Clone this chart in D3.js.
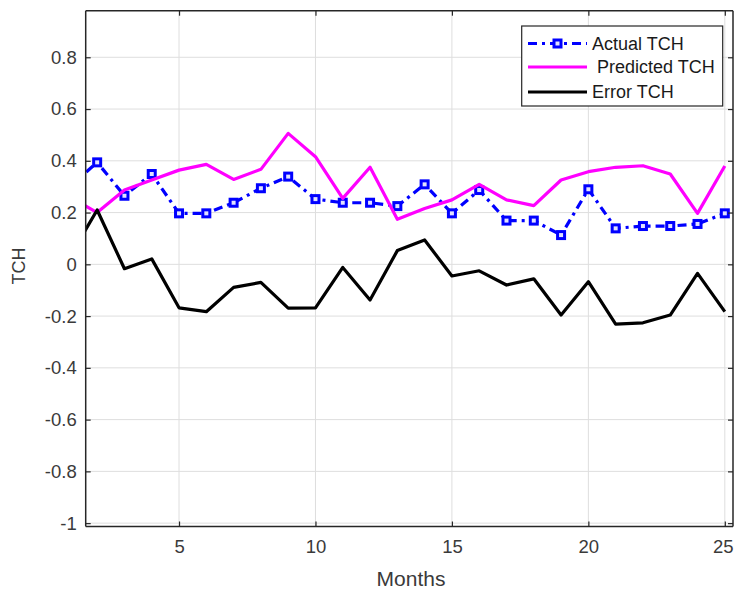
<!DOCTYPE html>
<html>
<head>
<meta charset="utf-8">
<script src="https://cdn.jsdelivr.net/npm/d3@7"></script>
<style>
  html, body { margin: 0; padding: 0; background: #fff; }
  svg { display: block; font-family: "Liberation Sans", Arial, Helvetica, sans-serif; }
</style>
</head>
<body>
<svg id="chart" width="734" height="593"></svg>
<script>
// Monthly TCH values
const months = [1, 2, 3, 4, 5, 6, 7, 8, 9, 10, 11, 12, 13, 14, 15, 16, 17, 18, 19, 20, 21, 22, 23, 24, 25];
const actualTCH = [0.30, 0.394, 0.265, 0.349, 0.197, 0.197, 0.238, 0.294, 0.339, 0.252, 0.238, 0.238, 0.225, 0.309, 0.197, 0.287, 0.169, 0.169, 0.113, 0.290, 0.139, 0.148, 0.148, 0.156, 0.197];
const predictedTCH = [0.26, 0.200, 0.287, 0.326, 0.364, 0.386, 0.328, 0.367, 0.506, 0.416, 0.255, 0.375, 0.174, 0.216, 0.249, 0.309, 0.249, 0.227, 0.326, 0.358, 0.375, 0.381, 0.349, 0.197, 0.380];
const errorTCH = [0.03, 0.210, -0.017, 0.021, -0.168, -0.183, -0.089, -0.070, -0.169, -0.168, -0.012, -0.138, 0.053, 0.094, -0.045, -0.025, -0.080, -0.056, -0.196, -0.067, -0.231, -0.226, -0.196, -0.035, -0.183];

const xTicks = [5, 10, 15, 20, 25];
const yTicks = [-1, -0.8, -0.6, -0.4, -0.2, 0, 0.2, 0.4, 0.6, 0.8];
const yTickLabels = ["-1", "-0.8", "-0.6", "-0.4", "-0.2", "0", "0.2", "0.4", "0.6", "0.8"];
const seriesNames = ["Actual TCH", "Predicted TCH", "Error TCH"];

const svg = d3.select("#chart");
const plot = { left: 85.7, right: 733, top: 10.7, bottom: 526.5 };

const x = d3.scaleLinear().domain([1.58, 25.3]).range([plot.left, plot.right]);
const y = d3.scaleLinear().domain([-1.013, 0.98]).range([plot.bottom, plot.top]);

const axisColor = "#262626";
const labelColor = "#3a3a3a";
const gridColor = "#dedede";

// grid
const grid = svg.append("g");
grid.selectAll("line.gx").data(xTicks).join("line")
  .attr("x1", d => x(d)).attr("x2", d => x(d))
  .attr("y1", plot.top).attr("y2", plot.bottom)
  .attr("stroke", gridColor).attr("stroke-width", 1);
grid.selectAll("line.gy").data(yTicks).join("line")
  .attr("x1", plot.left).attr("x2", plot.right)
  .attr("y1", d => y(d)).attr("y2", d => y(d))
  .attr("stroke", gridColor).attr("stroke-width", 1);

// clip region for the data
svg.append("defs").append("clipPath").attr("id", "clip")
  .append("rect")
  .attr("x", plot.left).attr("y", plot.top)
  .attr("width", plot.right - plot.left).attr("height", plot.bottom - plot.top);

const data = months.map((m, i) => ({ m, a: actualTCH[i], p: predictedTCH[i], e: errorTCH[i] }));
const lines = svg.append("g").attr("clip-path", "url(#clip)");

const line = key => d3.line().x(d => x(d.m)).y(d => y(d[key]));

lines.append("path").datum(data)
  .attr("d", line("a"))
  .attr("fill", "none").attr("stroke", "#0000ff")
  .attr("stroke-width", 3.2)
  .attr("stroke-dasharray", "9,5,3,5");

lines.selectAll("rect.mk").data(data).join("rect")
  .attr("x", d => x(d.m) - 3.5).attr("y", d => y(d.a) - 3.5)
  .attr("width", 7).attr("height", 7)
  .attr("fill", "#e2e2ff").attr("stroke", "#0000ff").attr("stroke-width", 3);

lines.append("path").datum(data)
  .attr("d", line("p"))
  .attr("fill", "none").attr("stroke", "#ff00ff")
  .attr("stroke-width", 3.2).attr("stroke-linejoin", "round");

lines.append("path").datum(data)
  .attr("d", line("e"))
  .attr("fill", "none").attr("stroke", "#000000")
  .attr("stroke-width", 3.2).attr("stroke-linejoin", "round");

// axes (box with inward ticks)
const axisBottom = d3.axisBottom(x).tickValues(xTicks).tickSize(-5).tickPadding(13).tickFormat(d3.format("d"));
const axisLeft = d3.axisLeft(y).tickValues(yTicks).tickSize(-5).tickPadding(9)
  .tickFormat((d, i) => yTickLabels[i]);
const axisTop = d3.axisTop(x).tickValues(xTicks).tickSize(-5).tickFormat("");
const axisRight = d3.axisRight(y).tickValues(yTicks).tickSize(-5).tickFormat("");

function style(g) {
  g.select(".domain").attr("stroke", axisColor).attr("stroke-width", 1.5);
  g.selectAll(".tick line").attr("stroke", axisColor).attr("stroke-width", 1.2);
  g.selectAll(".tick text").attr("fill", labelColor).attr("font-size", 18.5);
}

svg.append("g").attr("transform", `translate(0,${plot.bottom})`).call(axisBottom).call(style)
  .call(g => g.select(".domain").attr("d", `M${plot.left},0H${plot.right}`))
  // last label sits at the right edge of the canvas: keep it inside
  .call(g => g.selectAll(".tick").filter(d => d === 25).select("text")
    .attr("text-anchor", "end").attr("x", 733 - x(25)));
svg.append("g").attr("transform", `translate(${plot.left},0)`).call(axisLeft).call(style)
  .call(g => g.select(".domain").attr("d", `M0,${plot.top}V${plot.bottom}`));
svg.append("g").attr("transform", `translate(0,${plot.top})`).call(axisTop).call(style)
  .call(g => g.select(".domain").attr("d", `M${plot.left},0H${plot.right}`));
svg.append("g").attr("transform", `translate(${plot.right},0)`).call(axisRight).call(style)
  .call(g => g.select(".domain").attr("d", `M0,${plot.top}V${plot.bottom}`));

// axis titles
svg.append("text")
  .attr("x", 411).attr("y", 586)
  .attr("text-anchor", "middle").attr("fill", labelColor)
  .attr("font-size", 21).text("Months");
svg.append("text")
  .attr("transform", "translate(25,266) rotate(-90)")
  .attr("text-anchor", "middle").attr("fill", labelColor)
  .attr("font-size", 18).text("TCH");

// legend
const lg = svg.append("g");
lg.append("rect")
  .attr("x", 521.7).attr("y", 26).attr("width", 201).attr("height", 80)
  .attr("fill", "#fff").attr("stroke", axisColor).attr("stroke-width", 1.2);

const rowsY = [43.5, 67, 92];
const sx1 = 528, sx2 = 587;
// Actual
lg.append("line").attr("x1", sx1).attr("x2", sx2).attr("y1", rowsY[0]).attr("y2", rowsY[0])
  .attr("stroke", "#0000ff").attr("stroke-width", 3.2).attr("stroke-dasharray", "9,5,3,5");
lg.append("rect").attr("x", (sx1 + sx2) / 2 - 3.5).attr("y", rowsY[0] - 3.5).attr("width", 7).attr("height", 7)
  .attr("fill", "#e2e2ff").attr("stroke", "#0000ff").attr("stroke-width", 3);
// Predicted
lg.append("line").attr("x1", sx1).attr("x2", sx2).attr("y1", rowsY[1]).attr("y2", rowsY[1])
  .attr("stroke", "#ff00ff").attr("stroke-width", 3.2);
// Error
lg.append("line").attr("x1", sx1).attr("x2", sx2).attr("y1", rowsY[2]).attr("y2", rowsY[2])
  .attr("stroke", "#000").attr("stroke-width", 3.2);

const textX = [592, 597, 592];
lg.selectAll("text.lt").data(seriesNames).join("text")
  .attr("x", (d, i) => textX[i]).attr("y", (d, i) => rowsY[i])
  .attr("dy", "0.35em").attr("font-size", 18).attr("fill", "#1a1a1a")
  .text(d => d);
</script>
</body>
</html>
